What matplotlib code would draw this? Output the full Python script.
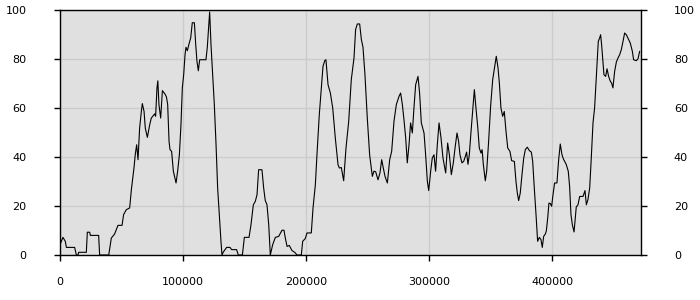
import matplotlib
matplotlib.use("Agg")
import matplotlib.pyplot as plt

# values (position, percent)
pos = [0, 2400, 4300, 5200, 11900, 13300, 14600, 15200, 21400, 22200,
       24100, 24700, 31400, 32200, 39600, 41700, 44400, 47100, 50400, 51700,
       53900, 56600, 58000, 60100, 61200, 62300, 63400, 64700, 66100, 66900,
       68300, 69300, 71000, 72900, 74200, 76900, 77700, 78800, 79500, 80400,
       81800, 83200, 85300, 86500, 87500, 88600, 89400, 90700, 92100, 93400,
       94300, 95600, 97000, 98300, 99400, 100500, 101600, 102400, 103500, 104800,
       106200, 107500, 109200, 110200, 111300, 112400, 113500, 118600, 119700, 120500,
       121600, 122700, 123800, 125400, 126800, 128100, 129500, 130800, 131600, 132700,
       135400, 138100, 139500, 143500, 144900, 148200, 149800, 153600, 155200, 157100,
       158700, 160100, 161400, 164100, 165500, 166800, 168200, 169600, 170900, 172800,
       175000, 177700, 180400, 182000, 183100, 184500, 186300, 188500, 190700, 192600,
       196100, 197200, 199300, 200700, 204200, 205600, 207500, 208800, 210700, 212400,
       213700, 215100, 216100, 217800, 219700, 221600, 223700, 225900, 227000, 228600,
       230500, 232400, 234600, 236700, 238900, 240200, 241600, 243500, 244900, 246200,
       247800, 249700, 251600, 253800, 255100, 256500, 258400, 260000, 261400, 262700,
       264100, 266000, 267900, 269500, 271400, 273300, 275500, 276800, 278200, 279500,
       280900, 282200, 283600, 284900, 286300, 287600, 289000, 290900, 292200, 293600,
       295800, 297100, 298500, 299600, 301200, 302500, 303900, 305200, 306600, 308000,
       309600, 311200, 313400, 315000, 316400, 318000, 319600, 321000, 322600, 323900,
       325000, 326600, 328000, 329400, 330400, 331500, 332600, 334000, 335300, 336700,
       338000, 339400, 340700, 342100, 343000, 344000, 345600, 346700, 348300, 349900,
       351600, 353200, 354500, 355900, 357000, 358300, 359700, 361000, 362400, 363800,
       365600, 367000, 369200, 370500, 371600, 372700, 374000, 375400, 376800, 378100,
       379700, 381400, 383000, 384100, 385400, 386800, 388100, 389500, 390800, 391900,
       393000, 394400, 395200, 396300, 397300, 398400, 399500, 400600, 401900, 403800,
       405200, 406500, 407900, 409200, 410100, 411400, 413000, 414100, 415200, 416300,
       417700, 418500, 419500, 420900, 422300, 425000, 426600, 427700, 429000, 430400,
       431700, 433100, 434400, 435300, 436300, 437400, 438500, 439300, 440100, 441200,
       442000, 443400, 444500, 445800, 447200, 448200, 449300, 450700, 452100, 453400,
       454800, 456100, 457500, 458800, 460200, 462100, 463400, 465100, 466100, 468300,
       469700, 471000]
value = [4.2, 7.2, 5.6, 3.1, 3.1, 0, 0, 1.1, 1.1, 9.3,
         9.3, 8.0, 8.0, 0, 0, 6.9, 8.6, 12.1, 12.1, 16.5,
         18.5, 19.2, 26.7, 35.5, 41.2, 45.0, 38.9, 51.8, 58.6, 61.8,
         58.6, 51.8, 48.0, 53.2, 55.9, 57.6, 56.6, 68.2, 71.1, 61.4,
         55.9, 67.1, 65.7, 64.5, 61.4, 46.4, 43.0, 42.3, 34.2, 31.4,
         29.4, 34.2, 40.9, 53.2, 68.2, 73.6, 81.8, 84.8, 83.4, 86.1,
         88.6, 94.8, 94.8, 86.5, 79.0, 75.2, 79.7, 79.7, 84.8, 90.6,
         99.2, 85.8, 75.6, 61.4, 45.0, 27.3, 15.8, 5.6, 0, 1.2,
         3.1, 3.1, 2.2, 2.2, 0, 0, 7.2, 7.2, 12.4, 20.5,
         21.9, 24.6, 34.8, 34.8, 27.3, 22.2, 20.5, 12.4, 0, 4.2,
         7.2, 7.6, 10.1, 10.1, 6.9, 3.5, 3.9, 1.8, 1.1, 0,
         0, 5.6, 6.7, 9.0, 9.0, 19.2, 28.7, 40.9, 57.3, 68.2,
         77.0, 79.3, 79.7, 69.5, 66.1, 60.0, 47.8, 36.9, 35.5, 35.7,
         30.3, 43.7, 54.6, 71.6, 80.4, 92.0, 94.3, 94.3, 87.9, 84.8,
         73.6, 55.9, 40.9, 32.1, 34.2, 34.0, 30.7, 33.5, 38.9, 35.5,
         32.1, 29.4, 38.9, 42.3, 54.6, 61.4, 64.8, 66.1, 61.4, 55.2,
         47.8, 37.6, 45.0, 53.9, 49.8, 60.0, 69.5, 72.9, 66.1, 53.9,
         49.8, 40.9, 30.1, 26.3, 34.2, 39.6, 40.9, 34.2, 45.0, 53.9,
         47.8, 39.6, 33.5, 45.7, 40.9, 32.8, 37.6, 43.7, 49.8, 46.4,
         40.9, 37.6, 38.2, 40.3, 42.0, 37.0, 40.9, 50.5, 58.6, 67.5,
         60.0, 52.5, 43.7, 41.6, 43.0, 36.9, 30.3, 34.2, 46.4, 60.7,
         71.6, 77.0, 81.1, 76.5, 70.2, 60.0, 56.6, 58.6, 50.5, 43.7,
         42.3, 38.5, 38.2, 30.1, 25.3, 22.2, 25.3, 32.8, 39.6, 43.0,
         44.0, 42.6, 42.0, 38.2, 27.3, 16.5, 5.6, 7.2, 6.3, 3.1,
         7.6, 8.6, 9.9, 15.1, 21.2, 21.0, 19.9, 24.6, 29.4, 29.4,
         38.9, 45.3, 40.9, 39.0, 38.2, 36.9, 34.2, 28.0, 16.5, 12.4,
         9.4, 13.8, 19.6, 20.5, 23.9, 23.9, 26.3, 20.5, 22.6, 27.3,
         39.6, 53.9, 60.0, 68.2, 77.7, 87.2, 88.6, 89.9, 85.8, 79.0,
         73.6, 72.9, 76.0, 72.9, 70.9, 70.2, 68.2, 75.0, 78.8, 80.4,
         81.8, 83.8, 87.2, 90.6, 89.9, 87.9, 86.5, 83.1, 79.7, 79.3,
         80.1, 83.1]

x_ticks = [0, 100000, 200000, 300000, 400000]
y_ticks = [0, 20, 40, 60, 80, 100]

fig = plt.figure(figsize=(7, 3), dpi=100)
ax = fig.add_axes([60 / 700, 45 / 300, 580.5 / 700, 245 / 300])
ax.set_facecolor("#e0e0e0")
ax.plot(pos, value, color="black", linewidth=0.8)

ax.set_xlim(0, 471700)
ax.set_ylim(0, 100)
ax.set_xticks(x_ticks)
ax.set_xticklabels([str(t) for t in x_ticks])
ax.set_yticks(y_ticks)
ax.grid(color="#cccccc", linewidth=1.0)
ax.set_axisbelow(True)
for s in ax.spines.values():
    s.set_color("black"); s.set_linewidth(1.0)
ax.tick_params(axis="both", direction="out", length=4, width=1,
               labelsize=8, colors="black")
ax.tick_params(axis="y", left=True, right=True, labelleft=True,
               labelright=True, pad=20)
ax.tick_params(axis="x", pad=12)

fig.savefig("out.png", dpi=100)
